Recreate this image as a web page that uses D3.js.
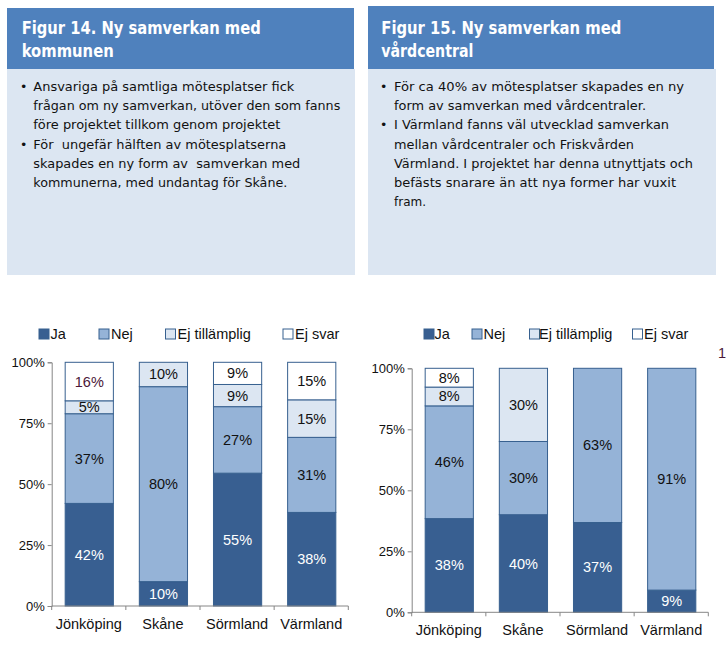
<!DOCTYPE html>
<html>
<head>
<meta charset="utf-8">
<script src="https://cdn.jsdelivr.net/npm/d3@7"></script>
<style>
  html, body { margin: 0; padding: 0; background: #fff; }
  svg { display: block; }
  text { white-space: pre; }
</style>
</head>
<body>
<div id="chart"></div>
<script>
// ---------- DATA ----------
const categories = ["Jönköping", "Skåne", "Sörmland", "Värmland"];
const seriesNames = ["Ja", "Nej", "Ej tillämplig", "Ej svar"];

// Figur 14 – Ny samverkan med kommunen (% per region)
const kommunJa          = [42.1, 10, 54.5, 38.4];
const kommunNej         = [36.8, 80, 27.3, 30.8];
const kommunEjTillampl  = [5.3, 10, 9.1, 15.4];
const kommunEjSvar      = [15.8, 0, 9.1, 15.4];

// Figur 15 – Ny samverkan med vårdcentral (% per region)
const vcJa          = [38.4, 40, 36.8, 9.1];
const vcNej         = [46.2, 30, 63.2, 90.9];
const vcEjTillampl  = [7.7, 30, 0, 0];
const vcEjSvar      = [7.7, 0, 0, 0];

const yTicks = [0, 25, 50, 75, 100];

const title14 = ["Figur 14. Ny samverkan med", "kommunen"];
const body14 = [
  ["•", "Ansvariga på samtliga mötesplatser fick"],
  ["",  "frågan om ny samverkan, utöver den som fanns"],
  ["",  "före projektet tillkom genom projektet"],
  ["•", "För  ungefär hälften av mötesplatserna"],
  ["",  "skapades en ny form av  samverkan med"],
  ["",  "kommunerna, med undantag för Skåne."]
];
const title15 = ["Figur 15. Ny samverkan med", "vårdcentral"];
const body15 = [
  ["•", "För ca 40% av mötesplatser skapades en ny"],
  ["",  "form av samverkan med vårdcentraler."],
  ["•", "I Värmland fanns väl utvecklad samverkan"],
  ["",  "mellan vårdcentraler och Friskvården"],
  ["",  "Värmland. I projektet har denna utnyttjats och"],
  ["",  "befästs snarare än att nya former har vuxit"],
  ["",  "fram."]
];

// ---------- STYLE / LAYOUT ----------
const colors = ["#385F91", "#95B3D7", "#DCE6F2", "#FFFFFF"];
const labelColors = ["#FFFFFF", "#111111", "#111111", "#111111"];
const borderColor = "#37608F";
const axisColor = "#868686";
const headerColor = "#4F81BD";
const panelColor = "#DCE6F2";

// measured line widths (layout only)
const title14W = [239, 92];
const body14W = [261, 307, 247, 253, 267, 254];
const title15W = [240, 92];
const body15W = [290, 252, 275, 240, 299, 282, 32];

const W = 727, H = 648;
const svg = d3.select("#chart").append("svg").attr("width", W).attr("height", H);

function textBox(o) {
  const g = svg.append("g");
  g.append("rect").attr("x", o.x).attr("y", 69).attr("width", o.bodyW).attr("height", 275 - 69).attr("fill", panelColor);
  g.append("rect").attr("x", o.x).attr("y", o.headTop).attr("width", o.headW).attr("height", 69 - o.headTop).attr("fill", headerColor);
  o.title.forEach((t, i) => {
    g.append("text").attr("x", o.titleX).attr("y", 33.5 + i * 23.5)
      .attr("font-family", "DejaVu Sans, sans-serif").attr("font-weight", "bold")
      .attr("font-size", 17).attr("fill", "#fff")
      .attr("textLength", o.titleW[i]).attr("lengthAdjust", "spacingAndGlyphs")
      .text(t);
  });
  o.body.forEach((l, i) => {
    const y = 91 + i * 19.2;
    if (l[0]) g.append("text").attr("x", o.bulletX).attr("y", y)
      .attr("font-family", "DejaVu Sans, sans-serif").attr("font-size", 12.5).attr("fill", "#111").text(l[0]);
    g.append("text").attr("x", o.textX).attr("y", y)
      .attr("font-family", "DejaVu Sans, sans-serif").attr("font-size", 13).attr("fill", "#111")
      .attr("textLength", o.bodyLW[i]).attr("lengthAdjust", "spacingAndGlyphs")
      .text(l[1]);
  });
}

textBox({x: 7, bodyW: 348, headTop: 8, headW: 347, title: title14, titleW: title14W, titleX: 21.7,
  body: body14, bodyLW: body14W, bulletX: 20, textX: 33.3});
textBox({x: 368, bodyW: 348, headTop: 6, headW: 346, title: title15, titleW: title15W, titleX: 381.3,
  body: body15, bodyLW: body15W, bulletX: 380, textX: 394});

function chart(o) {
  const rows = categories.map((c, i) => {
    const r = {cat: c};
    seriesNames.forEach((s, k) => r[s] = o.values[k][i]);
    return r;
  });
  const stack = d3.stack().keys(seriesNames)(rows);
  const x = d3.scaleBand().domain(categories).range([o.x0, o.x1]).paddingInner(0.35).paddingOuter(0.175);
  const y = d3.scaleLinear().domain([0, 100]).range([o.y0, o.y1]);
  const g = svg.append("g");

  // bars
  stack.forEach((layer, k) => {
    g.append("g").selectAll("rect").data(layer.filter(d => d[1] - d[0] > 0)).join("rect")
      .attr("x", d => x(d.data.cat) + 0.5)
      .attr("width", x.bandwidth())
      .attr("y", d => y(d[1]))
      .attr("height", d => y(d[0]) - y(d[1]))
      .attr("fill", colors[k])
      .attr("stroke", borderColor).attr("stroke-width", 1);
  });
  // labels
  stack.forEach((layer, k) => {
    g.append("g").selectAll("text").data(layer.filter(d => d[1] - d[0] > 0)).join("text")
      .attr("x", d => x(d.data.cat) + x.bandwidth() / 2 + 0.5)
      .attr("y", d => y((d[0] + d[1]) / 2) + 5)
      .attr("text-anchor", "middle")
      .attr("font-family", "Liberation Sans, Arial, sans-serif").attr("font-size", 14.5)
      .attr("fill", d => (o.special && o.special(k, d)) || labelColors[k])
      .text(d => Math.round(d[1] - d[0]) + "%");
  });

  // y axis
  const ya = g.append("g").attr("transform", `translate(${o.x0},0)`)
    .call(d3.axisLeft(y).tickValues(yTicks).tickSize(4).tickFormat(d => d + "%"));
  ya.select(".domain").attr("stroke", axisColor);
  ya.selectAll(".tick line").attr("stroke", axisColor);
  ya.selectAll(".tick text").attr("font-family", "Liberation Sans, Arial, sans-serif")
    .attr("font-size", 13).attr("fill", "#111").attr("x", -7);

  // x axis
  const xa = g.append("g").attr("transform", `translate(0,${o.y0})`);
  xa.append("line").attr("x1", o.x0).attr("x2", o.x1).attr("y1", 0).attr("y2", 0).attr("stroke", axisColor);
  const bounds = categories.map(c => x(c) - x.step() * x.paddingInner() / 2).concat([o.x1]);
  xa.selectAll("line.tk").data(bounds).join("line").attr("class", "tk")
    .attr("x1", d => d).attr("x2", d => d).attr("y1", 0).attr("y2", 4).attr("stroke", axisColor);
  xa.selectAll("text").data(categories).join("text")
    .attr("x", d => x(d) + x.bandwidth() / 2)
    .attr("y", o.catY - o.y0)
    .attr("text-anchor", "middle")
    .attr("font-family", "Liberation Sans, Arial, sans-serif").attr("font-size", 14.5).attr("fill", "#111")
    .text(d => d);

  // legend
  seriesNames.forEach((s, k) => {
    g.append("rect").attr("x", o.legSq[k]).attr("y", o.legY - 5).attr("width", 10).attr("height", 10)
      .attr("fill", colors[k]).attr("stroke", borderColor).attr("stroke-width", 1);
    g.append("text").attr("x", o.legSq[k] + o.legGap[k]).attr("y", o.legY + 5)
      .attr("font-family", "Liberation Sans, Arial, sans-serif").attr("font-size", 14.5).attr("fill", "#111")
      .text(s);
  });
}

chart({
  values: [kommunJa, kommunNej, kommunEjTillampl, kommunEjSvar],
  x0: 51.7, x1: 348.3, y0: 606, y1: 362.3, catY: 628.5,
  legY: 334, legSq: [39, 99, 165.5, 283], legGap: [11.5, 12, 12, 12],
  special: (k, d) => (k === 3 && d.data.cat === "Jönköping") ? "#4A1838" : null
});
chart({
  values: [vcJa, vcNej, vcEjTillampl, vcEjSvar],
  x0: 411.7, x1: 708.3, y0: 612.3, y1: 368.3, catY: 635,
  legY: 334, legSq: [424, 472, 529.5, 632.5], legGap: [10.5, 11.5, 9.5, 11.5]
});

// stray label at right edge (kept fully visible)
svg.append("text").attr("x", 718).attr("y", 358)
  .attr("font-family", "Liberation Sans, Arial, sans-serif").attr("font-size", 14.5).attr("fill", "#4A1838").text("1");
</script>
</body>
</html>
